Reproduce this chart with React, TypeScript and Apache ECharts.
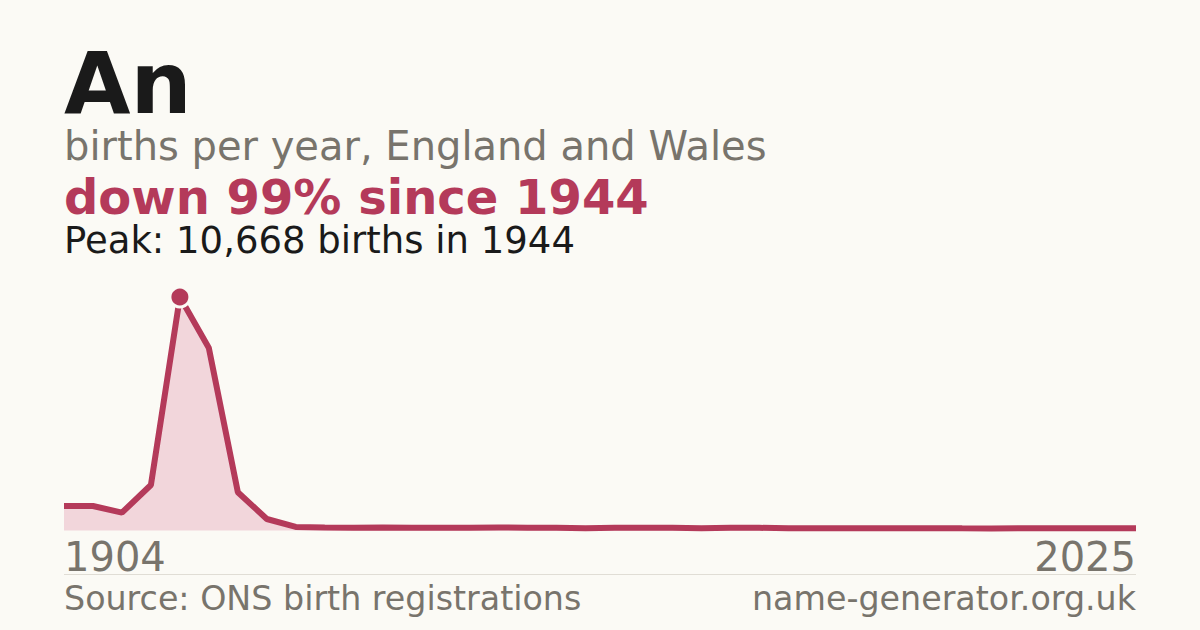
import { useEffect, useRef } from "react"
import * as echarts from "echarts"

const years = [
  "1904", "1914", "1924", "1934", "1944", "1954", "1964", "1974", "1984", "1994",
  "1998", "1999", "2000", "2001", "2002", "2003", "2004", "2005", "2006", "2007",
  "2008", "2009", "2010", "2011", "2012", "2013", "2014", "2015", "2016", "2017",
  "2018", "2019", "2020", "2021", "2022", "2023", "2024", "2025",
]

const births = [
  1125, 1118, 815, 2080, 10668, 8335, 1750, 525, 165, 135,
  130, 132, 128, 131, 129, 133, 130, 128, 105, 127,
  130, 126, 104, 125, 122, 102, 99, 101, 98, 100,
  103, 99, 97, 100, 101, 98, 99, 100,
]

const peakYear = "1944"
const peakIndex = years.indexOf(peakYear)

const BG = "#fbfaf5"
const RED = "#b43a5a"
const GREY = "#78746c"
const INK = "#1a1a1a"
const FONT = "DejaVu Sans"

export default function App() {
  const hostRef = useRef<HTMLDivElement>(null)

  useEffect(() => {
    document.body.style.margin = "0"
    const el = hostRef.current
    if (!el) return
    const chart = echarts.init(el, undefined, { renderer: "svg" })
    const last = years.length - 1

    chart.setOption({
      animation: false,
      backgroundColor: BG,
      grid: { left: 64, right: 64, top: 297, bottom: 99.5 },
      xAxis: {
        type: "category",
        data: years,
        boundaryGap: false,
        axisLine: { show: false },
        axisTick: { show: false },
        splitLine: { show: false },
        axisLabel: {
          interval: (i: number) => i === 0 || i === last,
          color: GREY,
          fontFamily: FONT,
          fontSize: 40,
          margin: 6,
          alignMinLabel: "left",
          alignMaxLabel: "right",
        },
      },
      yAxis: {
        type: "value",
        min: 0,
        max: births[peakIndex],
        show: false,
        splitLine: { show: false },
      },
      series: [
        {
          type: "line",
          data: births,
          symbol: "none",
          lineStyle: { color: RED, width: 6 },
          areaStyle: { color: "#f2d6db", opacity: 1 },
          z: 2,
        },
        {
          type: "scatter",
          data: [[peakIndex, births[peakIndex]]],
          symbol: "circle",
          symbolSize: 20,
          itemStyle: { color: RED, borderColor: BG, borderWidth: 3, opacity: 1 },
          z: 3,
        },
      ],
      graphic: [
        {
          type: "text",
          x: 64,
          y: 82.5,
          style: { text: "An", fill: INK, fontFamily: FONT, fontSize: 86, fontWeight: "bold", verticalAlign: "middle", lineHeight: 70 },
        },
        {
          type: "text",
          x: 64,
          y: 146.2,
          style: { text: "births per year, England and Wales", fill: GREY, fontFamily: FONT, fontSize: 40, verticalAlign: "middle", lineHeight: 36 },
        },
        {
          type: "text",
          x: 64,
          y: 197.4,
          style: { text: "down 99% since 1944", fill: RED, fontFamily: FONT, fontSize: 48, fontWeight: "bold", verticalAlign: "middle", lineHeight: 40 },
        },
        {
          type: "text",
          x: 64,
          y: 240.5,
          style: { text: "Peak: 10,668 births in 1944", fill: INK, fontFamily: FONT, fontSize: 37, verticalAlign: "middle", lineHeight: 32 },
        },
        {
          type: "line",
          shape: { x1: 64, y1: 574.5, x2: 1136, y2: 574.5 },
          style: { stroke: "#e0ddd5", lineWidth: 1 },
        },
        {
          type: "text",
          x: 64,
          y: 598.6,
          style: { text: "Source: ONS birth registrations", fill: GREY, fontFamily: FONT, fontSize: 33.3, verticalAlign: "middle" },
        },
        {
          type: "text",
          x: 1136,
          y: 598.6,
          style: { text: "name-generator.org.uk", fill: GREY, fontFamily: FONT, fontSize: 33.3, align: "right", verticalAlign: "middle" },
        },
      ],
    })

    return () => {
      chart.dispose()
    }
  }, [])

  return <div ref={hostRef} style={{ width: 1200, height: 630 }} />
}
